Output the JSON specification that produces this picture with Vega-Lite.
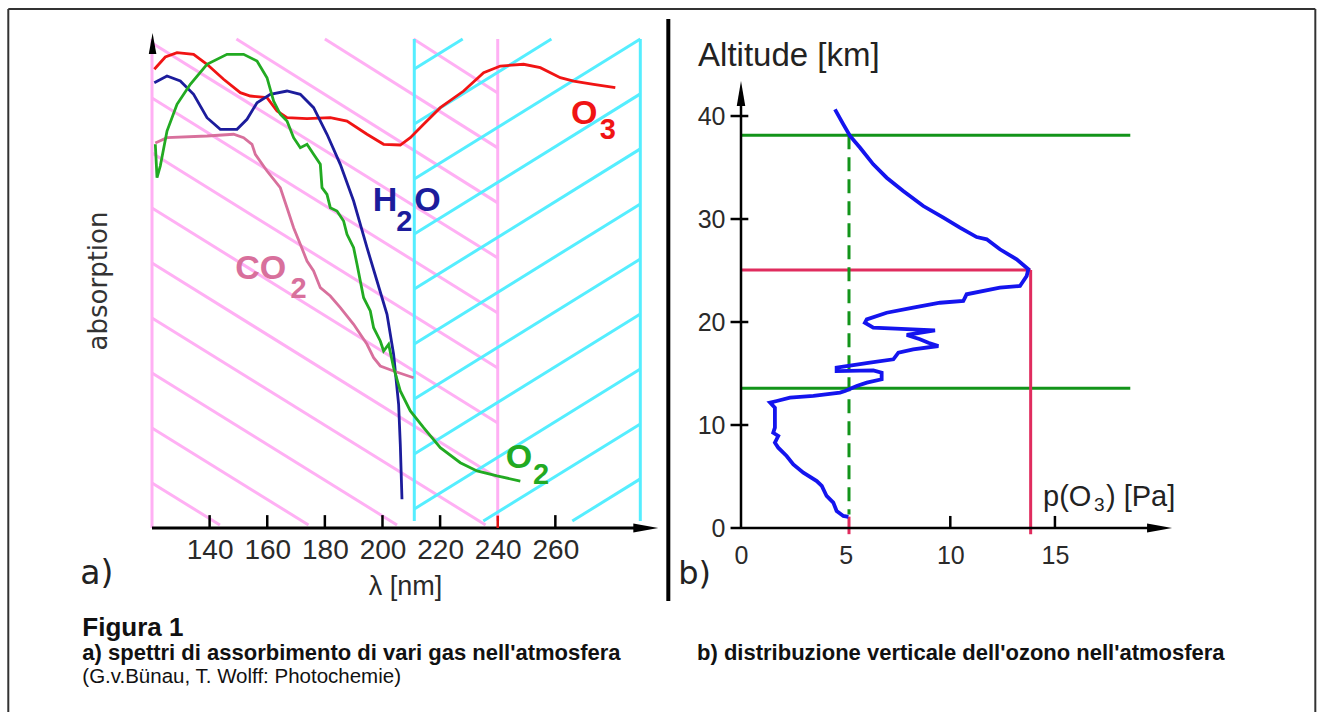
{
  "$schema": "https://vega.github.io/schema/vega-lite/v6.json",
  "padding": {"left": 7, "top": 7, "right": 3, "bottom": 1},
  "bounds": "flush",
  "spacing": 83,
  "background": "white",
  "config": {
    "view": {"stroke": null},
    "axis": {"grid": false, "domain": false, "ticks": false, "tickSize": 0, "minExtent": 0, "labelFont": "Liberation Sans", "titleFont": "Liberation Sans", "labelColor": "#2a2a2a", "titleColor": "#2a2a2a", "titleFontWeight": "normal", "labelFlush": false, "labelOverlap": false},
    "text": {"font": "Liberation Sans"}
  },
  "datasets": {
    "pinkHatch": [
      {"nm": 120, "absorption": 9.09, "nm2": 143.57, "absorption2": 0.61},
      {"nm": 120, "absorption": 20.2, "nm2": 174.32, "absorption2": 0.61},
      {"nm": 120, "absorption": 31.31, "nm2": 205.04, "absorption2": 0.61},
      {"nm": 120, "absorption": 42.42, "nm2": 235.79, "absorption2": 0.61},
      {"nm": 120, "absorption": 53.54, "nm2": 240, "absorption2": 10.12},
      {"nm": 120, "absorption": 64.65, "nm2": 240, "absorption2": 21.23},
      {"nm": 120, "absorption": 75.76, "nm2": 240, "absorption2": 32.34},
      {"nm": 120, "absorption": 86.87, "nm2": 240, "absorption2": 43.45},
      {"nm": 120, "absorption": 97.98, "nm2": 240, "absorption2": 54.57},
      {"nm": 149.3, "absorption": 98.79, "nm2": 240, "absorption2": 65.68},
      {"nm": 180.01, "absorption": 98.79, "nm2": 240, "absorption2": 76.79},
      {"nm": 210.77, "absorption": 98.79, "nm2": 240, "absorption2": 87.9},
      {"nm": 120, "absorption": 98.79, "nm2": 120, "absorption2": 0},
      {"nm": 240, "absorption": 98.79, "nm2": 240, "absorption2": 1.4}
    ],
    "cyanHatch": [
      {"nm": 265.89, "absorption": 1.41, "nm2": 289.49, "absorption2": 9.92},
      {"nm": 235.0, "absorption": 1.41, "nm2": 289.49, "absorption2": 21.03},
      {"nm": 211.04, "absorption": 3.84, "nm2": 289.49, "absorption2": 32.14},
      {"nm": 211.04, "absorption": 14.95, "nm2": 289.49, "absorption2": 43.25},
      {"nm": 211.04, "absorption": 26.06, "nm2": 289.49, "absorption2": 54.36},
      {"nm": 211.04, "absorption": 37.17, "nm2": 289.49, "absorption2": 65.47},
      {"nm": 211.04, "absorption": 48.28, "nm2": 289.49, "absorption2": 76.59},
      {"nm": 211.04, "absorption": 59.39, "nm2": 289.49, "absorption2": 87.7},
      {"nm": 211.04, "absorption": 70.51, "nm2": 289.49, "absorption2": 98.79},
      {"nm": 211.04, "absorption": 81.62, "nm2": 258.63, "absorption2": 98.79},
      {"nm": 211.04, "absorption": 92.73, "nm2": 227.84, "absorption2": 98.79},
      {"nm": 211.04, "absorption": 98.79, "nm2": 211.04, "absorption2": 1.41},
      {"nm": 289.49, "absorption": 98.79, "nm2": 289.49, "absorption2": 1.41}
    ],
    "spectra": [
      {"gas": "O3", "i": 0, "nm": 120.8, "absorption": 92.67},
      {"gas": "O3", "i": 1, "nm": 124.62, "absorption": 95.15},
      {"gas": "O3", "i": 2, "nm": 128.68, "absorption": 96.02},
      {"gas": "O3", "i": 3, "nm": 134.44, "absorption": 95.7},
      {"gas": "O3", "i": 4, "nm": 139.09, "absorption": 93.68},
      {"gas": "O3", "i": 5, "nm": 144.85, "absorption": 90.65},
      {"gas": "O3", "i": 6, "nm": 150.65, "absorption": 87.94},
      {"gas": "O3", "i": 7, "nm": 154.12, "absorption": 87.27},
      {"gas": "O3", "i": 8, "nm": 159.92, "absorption": 86.93},
      {"gas": "O3", "i": 9, "nm": 163.39, "absorption": 84.24},
      {"gas": "O3", "i": 10, "nm": 166.86, "absorption": 82.89},
      {"gas": "O3", "i": 11, "nm": 173.8, "absorption": 82.69},
      {"gas": "O3", "i": 12, "nm": 181.89, "absorption": 82.89},
      {"gas": "O3", "i": 13, "nm": 187.68, "absorption": 82.22},
      {"gas": "O3", "i": 14, "nm": 194.63, "absorption": 79.54},
      {"gas": "O3", "i": 15, "nm": 200.39, "absorption": 77.52},
      {"gas": "O3", "i": 16, "nm": 206.18, "absorption": 77.37},
      {"gas": "O3", "i": 17, "nm": 209.66, "absorption": 78.85},
      {"gas": "O3", "i": 18, "nm": 214.27, "absorption": 81.56},
      {"gas": "O3", "i": 19, "nm": 220.07, "absorption": 84.91},
      {"gas": "O3", "i": 20, "nm": 228.16, "absorption": 88.28},
      {"gas": "O3", "i": 21, "nm": 235.1, "absorption": 91.98},
      {"gas": "O3", "i": 22, "nm": 240.9, "absorption": 93.33},
      {"gas": "O3", "i": 23, "nm": 248.98, "absorption": 93.68},
      {"gas": "O3", "i": 24, "nm": 254.78, "absorption": 92.99},
      {"gas": "O3", "i": 25, "nm": 261.72, "absorption": 90.97},
      {"gas": "O3", "i": 26, "nm": 266.34, "absorption": 90.3},
      {"gas": "O3", "i": 27, "nm": 273.28, "absorption": 89.64},
      {"gas": "O3", "i": 28, "nm": 280.81, "absorption": 88.95},
      {"gas": "H2O", "i": 0, "nm": 120.8, "absorption": 89.96},
      {"gas": "H2O", "i": 1, "nm": 125.21, "absorption": 91.31},
      {"gas": "H2O", "i": 2, "nm": 129.82, "absorption": 90.3},
      {"gas": "H2O", "i": 3, "nm": 134.44, "absorption": 87.62},
      {"gas": "H2O", "i": 4, "nm": 139.09, "absorption": 82.89},
      {"gas": "H2O", "i": 5, "nm": 143.71, "absorption": 80.55},
      {"gas": "H2O", "i": 6, "nm": 149.5, "absorption": 80.55},
      {"gas": "H2O", "i": 7, "nm": 152.97, "absorption": 82.57},
      {"gas": "H2O", "i": 8, "nm": 156.45, "absorption": 85.92},
      {"gas": "H2O", "i": 9, "nm": 161.06, "absorption": 87.62},
      {"gas": "H2O", "i": 10, "nm": 166.86, "absorption": 88.28},
      {"gas": "H2O", "i": 11, "nm": 171.48, "absorption": 87.62},
      {"gas": "H2O", "i": 12, "nm": 176.09, "absorption": 84.91},
      {"gas": "H2O", "i": 13, "nm": 180.74, "absorption": 79.54},
      {"gas": "H2O", "i": 14, "nm": 185.36, "absorption": 73.47},
      {"gas": "H2O", "i": 15, "nm": 189.98, "absorption": 66.06},
      {"gas": "H2O", "i": 16, "nm": 194.63, "absorption": 56.63},
      {"gas": "H2O", "i": 17, "nm": 198.1, "absorption": 49.9},
      {"gas": "H2O", "i": 18, "nm": 201.57, "absorption": 43.17},
      {"gas": "H2O", "i": 19, "nm": 203.86, "absorption": 35.09},
      {"gas": "H2O", "i": 20, "nm": 205.6, "absorption": 24.99},
      {"gas": "H2O", "i": 21, "nm": 206.18, "absorption": 16.91},
      {"gas": "H2O", "i": 22, "nm": 206.77, "absorption": 5.8},
      {"gas": "CO2", "i": 0, "nm": 121.15, "absorption": 77.78},
      {"gas": "CO2", "i": 1, "nm": 125.21, "absorption": 78.85},
      {"gas": "CO2", "i": 2, "nm": 139.09, "absorption": 79.19},
      {"gas": "CO2", "i": 3, "nm": 148.32, "absorption": 79.54},
      {"gas": "CO2", "i": 4, "nm": 151.79, "absorption": 78.85},
      {"gas": "CO2", "i": 5, "nm": 154.71, "absorption": 77.52},
      {"gas": "CO2", "i": 6, "nm": 155.86, "absorption": 75.49},
      {"gas": "CO2", "i": 7, "nm": 159.92, "absorption": 72.12},
      {"gas": "CO2", "i": 8, "nm": 164.53, "absorption": 68.75},
      {"gas": "CO2", "i": 9, "nm": 166.86, "absorption": 64.71},
      {"gas": "CO2", "i": 10, "nm": 169.15, "absorption": 60.67},
      {"gas": "CO2", "i": 11, "nm": 171.48, "absorption": 57.31},
      {"gas": "CO2", "i": 12, "nm": 173.8, "absorption": 53.94},
      {"gas": "CO2", "i": 13, "nm": 176.09, "absorption": 51.92},
      {"gas": "CO2", "i": 14, "nm": 178.42, "absorption": 48.55},
      {"gas": "CO2", "i": 15, "nm": 181.89, "absorption": 46.87},
      {"gas": "CO2", "i": 16, "nm": 185.36, "absorption": 44.51},
      {"gas": "CO2", "i": 17, "nm": 189.98, "absorption": 41.15},
      {"gas": "CO2", "i": 18, "nm": 194.63, "absorption": 37.11},
      {"gas": "CO2", "i": 19, "nm": 196.92, "absorption": 34.4},
      {"gas": "CO2", "i": 20, "nm": 199.24, "absorption": 32.73},
      {"gas": "CO2", "i": 21, "nm": 203.86, "absorption": 31.72},
      {"gas": "CO2", "i": 22, "nm": 210.8, "absorption": 30.36},
      {"gas": "O2", "i": 0, "nm": 121.15, "absorption": 77.52},
      {"gas": "O2", "i": 1, "nm": 121.74, "absorption": 70.77},
      {"gas": "O2", "i": 2, "nm": 122.88, "absorption": 73.13},
      {"gas": "O2", "i": 3, "nm": 125.21, "absorption": 80.2},
      {"gas": "O2", "i": 4, "nm": 128.68, "absorption": 85.6},
      {"gas": "O2", "i": 5, "nm": 133.29, "absorption": 89.64},
      {"gas": "O2", "i": 6, "nm": 139.09, "absorption": 93.68},
      {"gas": "O2", "i": 7, "nm": 146.03, "absorption": 95.7},
      {"gas": "O2", "i": 8, "nm": 151.79, "absorption": 95.7},
      {"gas": "O2", "i": 9, "nm": 156.45, "absorption": 94.34},
      {"gas": "O2", "i": 10, "nm": 159.92, "absorption": 90.97},
      {"gas": "O2", "i": 11, "nm": 162.21, "absorption": 86.26},
      {"gas": "O2", "i": 12, "nm": 164.53, "absorption": 83.58},
      {"gas": "O2", "i": 13, "nm": 166.86, "absorption": 82.22},
      {"gas": "O2", "i": 14, "nm": 169.15, "absorption": 78.85},
      {"gas": "O2", "i": 15, "nm": 171.48, "absorption": 76.83},
      {"gas": "O2", "i": 16, "nm": 173.8, "absorption": 77.52},
      {"gas": "O2", "i": 17, "nm": 176.09, "absorption": 75.49},
      {"gas": "O2", "i": 18, "nm": 178.42, "absorption": 73.47},
      {"gas": "O2", "i": 19, "nm": 179.01, "absorption": 68.75},
      {"gas": "O2", "i": 20, "nm": 180.74, "absorption": 67.41},
      {"gas": "O2", "i": 21, "nm": 181.89, "absorption": 64.71},
      {"gas": "O2", "i": 22, "nm": 184.21, "absorption": 64.04},
      {"gas": "O2", "i": 23, "nm": 186.5, "absorption": 62.02},
      {"gas": "O2", "i": 24, "nm": 187.68, "absorption": 59.33},
      {"gas": "O2", "i": 25, "nm": 189.98, "absorption": 56.63},
      {"gas": "O2", "i": 26, "nm": 191.16, "absorption": 53.27},
      {"gas": "O2", "i": 27, "nm": 192.3, "absorption": 49.9},
      {"gas": "O2", "i": 28, "nm": 193.45, "absorption": 46.53},
      {"gas": "O2", "i": 29, "nm": 195.77, "absorption": 43.84},
      {"gas": "O2", "i": 30, "nm": 196.92, "absorption": 40.46},
      {"gas": "O2", "i": 31, "nm": 199.24, "absorption": 37.78},
      {"gas": "O2", "i": 32, "nm": 200.39, "absorption": 35.76},
      {"gas": "O2", "i": 33, "nm": 202.13, "absorption": 37.11},
      {"gas": "O2", "i": 34, "nm": 203.86, "absorption": 32.38},
      {"gas": "O2", "i": 35, "nm": 206.18, "absorption": 27.68},
      {"gas": "O2", "i": 36, "nm": 209.66, "absorption": 23.64},
      {"gas": "O2", "i": 37, "nm": 214.27, "absorption": 20.26},
      {"gas": "O2", "i": 38, "nm": 220.07, "absorption": 16.22},
      {"gas": "O2", "i": 39, "nm": 227.01, "absorption": 13.19},
      {"gas": "O2", "i": 40, "nm": 232.81, "absorption": 11.52},
      {"gas": "O2", "i": 41, "nm": 239.75, "absorption": 10.51},
      {"gas": "O2", "i": 42, "nm": 247.84, "absorption": 9.49}
    ],
    "gasMain": [
      {"gas": "O3", "text": "O", "nm": 265.4, "absorption": 81.56},
      {"gas": "H2O", "text": "H", "nm": 196.6, "absorption": 64.04},
      {"gas": "H2O", "text": "O", "nm": 211.0, "absorption": 64.04},
      {"gas": "CO2", "text": "CO", "nm": 148.9, "absorption": 50.3},
      {"gas": "O2", "text": "O", "nm": 242.8, "absorption": 12.18}
    ],
    "gasSub": [
      {"gas": "O3", "text": "3", "nm": 275.4, "absorption": 78.53},
      {"gas": "H2O", "text": "2", "nm": 204.8, "absorption": 60.0},
      {"gas": "CO2", "text": "2", "nm": 168.1, "absorption": 46.46},
      {"gas": "O2", "text": "2", "nm": 252.2, "absorption": 8.83}
    ],
    "axisA": [
      {"nm": 120, "absorption": 0, "nm2": 290, "absorption2": 0}
    ],
    "ticksA": [
      {"nm": 140, "absorption": 0, "nm2": 140, "absorption2": 2.6},
      {"nm": 160, "absorption": 0, "nm2": 160, "absorption2": 2.6},
      {"nm": 180, "absorption": 0, "nm2": 180, "absorption2": 2.6},
      {"nm": 200, "absorption": 0, "nm2": 200, "absorption2": 2.6},
      {"nm": 220, "absorption": 0, "nm2": 220, "absorption2": 2.6},
      {"nm": 260, "absorption": 0, "nm2": 260, "absorption2": 2.6}
    ],
    "tick240": [
      {"nm": 240, "absorption": 0, "nm2": 240, "absorption2": 2.5}
    ],
    "arrowRightA": [{"nm": 291.4, "absorption": 0}],
    "arrowUpA": [{"nm": 120.2, "absorption": 97.88}],
    "frame": [
      {"nm": 70.12, "absorption": 104.85, "nm2": 70.12, "absorption2": -37.17},
      {"nm": 70.12, "absorption": 104.85, "nm2": 523.78, "absorption2": 104.85},
      {"nm": 523.78, "absorption": 104.85, "nm2": 523.78, "absorption2": -37.17}
    ],
    "divider": [
      {"nm": 299.21, "absorption": 102.83, "nm2": 299.21, "absorption2": -14.75}
    ],
    "captionTitle": [{"text": "Figura 1", "nm": 95.81, "absorption": -21.9}],
    "captionA": [{"text": "a) spettri di assorbimento di vari gas nell'atmosfera", "nm": 95.81, "absorption": -26.7}],
    "captionSource": [{"text": "(G.v.Bünau, T. Wolff: Photochemie)", "nm": 95.81, "absorption": -31.3}],
    "panelA": [{"text": "a)", "nm": 95.1, "absorption": -11.3}],
    "profile": [
      {"i": 0, "p": 4.49, "km": 40.65}, {"i": 1, "p": 4.89, "km": 39.19}, {"i": 2, "p": 5.21, "km": 38.06},
      {"i": 3, "p": 5.69, "km": 36.92}, {"i": 4, "p": 6.32, "km": 35.31}, {"i": 5, "p": 6.96, "km": 34.01},
      {"i": 6, "p": 7.75, "km": 32.72}, {"i": 7, "p": 8.71, "km": 31.26}, {"i": 8, "p": 9.67, "km": 30.13},
      {"i": 9, "p": 10.46, "km": 29.16}, {"i": 10, "p": 11.26, "km": 28.25}, {"i": 11, "p": 11.74, "km": 28.03},
      {"i": 12, "p": 12.37, "km": 27.06}, {"i": 13, "p": 13.17, "km": 26.09}, {"i": 14, "p": 13.73, "km": 25.12},
      {"i": 15, "p": 13.65, "km": 24.47}, {"i": 16, "p": 13.33, "km": 23.5}, {"i": 17, "p": 12.37, "km": 23.33},
      {"i": 18, "p": 10.78, "km": 22.69}, {"i": 19, "p": 10.62, "km": 22.04}, {"i": 20, "p": 9.51, "km": 21.87},
      {"i": 21, "p": 8.23, "km": 21.39}, {"i": 22, "p": 6.96, "km": 20.9}, {"i": 23, "p": 6.01, "km": 20.26},
      {"i": 24, "p": 5.92, "km": 19.93}, {"i": 25, "p": 6.32, "km": 19.45}, {"i": 26, "p": 9.27, "km": 19.19},
      {"i": 27, "p": 7.92, "km": 18.74}, {"i": 28, "p": 8.55, "km": 18.32}, {"i": 29, "p": 8.95, "km": 17.99},
      {"i": 30, "p": 9.43, "km": 17.67}, {"i": 31, "p": 8.23, "km": 17.35}, {"i": 32, "p": 7.52, "km": 17.02},
      {"i": 33, "p": 7.28, "km": 16.38}, {"i": 34, "p": 6.16, "km": 16.05}, {"i": 35, "p": 4.57, "km": 15.56},
      {"i": 36, "p": 4.57, "km": 15.24}, {"i": 37, "p": 6.32, "km": 15.31}, {"i": 38, "p": 6.72, "km": 15.08},
      {"i": 39, "p": 6.72, "km": 14.44}, {"i": 40, "p": 6.01, "km": 14.11}, {"i": 41, "p": 5.53, "km": 13.79},
      {"i": 42, "p": 4.97, "km": 13.3}, {"i": 43, "p": 4.73, "km": 13.14}, {"i": 44, "p": 3.46, "km": 12.82},
      {"i": 45, "p": 2.34, "km": 12.65}, {"i": 46, "p": 1.71, "km": 12.33}, {"i": 47, "p": 1.39, "km": 12.17},
      {"i": 48, "p": 1.62, "km": 11.68}, {"i": 49, "p": 1.62, "km": 9.74}, {"i": 50, "p": 1.54, "km": 9.25},
      {"i": 51, "p": 1.78, "km": 8.93}, {"i": 52, "p": 1.62, "km": 8.28}, {"i": 53, "p": 1.78, "km": 7.8},
      {"i": 54, "p": 2.18, "km": 6.99}, {"i": 55, "p": 2.5, "km": 6.18}, {"i": 56, "p": 2.98, "km": 5.37},
      {"i": 57, "p": 3.62, "km": 4.56}, {"i": 58, "p": 3.86, "km": 4.08}, {"i": 59, "p": 4.09, "km": 3.11},
      {"i": 60, "p": 4.41, "km": 2.46}, {"i": 61, "p": 4.57, "km": 1.65}, {"i": 62, "p": 4.89, "km": 1.17},
      {"i": 63, "p": 5.13, "km": 1.07}
    ],
    "greenLines": [
      {"p": 0, "km": 38.13, "p2": 18.6, "km2": 38.13},
      {"p": 0, "km": 13.56, "p2": 18.6, "km2": 13.56}
    ],
    "redLines": [
      {"p": 0, "km": 25.05, "p2": 13.84, "km2": 25.05},
      {"p": 13.84, "km": 25.05, "p2": 13.84, "km2": -0.6},
      {"p": 5.16, "km": 1.1, "p2": 5.16, "km2": -0.6}
    ],
    "dashedLine": [
      {"p": 5.16, "km": 38.13, "p2": 5.16, "km2": 1.3}
    ],
    "axisB": [
      {"p": 0, "km": 0, "p2": 0, "km2": 41},
      {"p": -0.5, "km": 0, "p2": 19.5, "km2": 0},
      {"p": -0.5, "km": 10, "p2": 0.35, "km2": 10},
      {"p": -0.5, "km": 20, "p2": 0.35, "km2": 20},
      {"p": -0.5, "km": 30, "p2": 0.35, "km2": 30},
      {"p": -0.5, "km": 40, "p2": 0.35, "km2": 40},
      {"p": 10, "km": 0, "p2": 10, "km2": 1.17},
      {"p": 15, "km": 0, "p2": 15, "km2": 1.17}
    ],
    "arrowRightB": [{"p": 20.0, "km": 0}],
    "arrowUpB": [{"p": 0, "km": 42.18}],
    "altLabel": [{"text": "Altitude [km]", "p": -2.05, "km": 44.85}],
    "pMain": [{"text": "p(O", "p": 14.43, "km": 2.14}, {"text": ") [Pa]", "p": 17.44, "km": 2.14}],
    "pSub": [{"text": "3", "p": 16.87, "km": 1.65}],
    "panelB": [{"text": "b)", "p": -3.0, "km": -5.44}],
    "captionB": [{"text": "b) distribuzione verticale dell'ozono nell'atmosfera", "p": -2.1, "km": -12.82}]
  },
  "hconcat": [
    {
      "width": 506,
      "height": 495,
      "encoding": {
        "x": {"field": "nm", "type": "quantitative", "scale": {"domain": [120, 295.63], "nice": false, "zero": false},
              "axis": {"values": [140, 160, 180, 200, 220, 240, 260], "labelFontSize": 28, "labelPadding": 8, "title": "λ [nm]", "titleFontSize": 27, "titlePadding": 9}},
        "y": {"field": "absorption", "type": "quantitative", "scale": {"domain": [0, 100], "nice": false, "zero": false},
              "axis": {"labels": false, "title": "absorption", "titleFont": "DejaVu Sans", "titleFontSize": 26, "titlePadding": 41, "titleColor": "#333"}}
      },
      "layer": [
        {
          "data": {"name": "pinkHatch"},
          "mark": {"type": "rule", "color": "#ffb0f4", "strokeWidth": 3},
          "encoding": {"x2": {"field": "nm2"}, "y2": {"field": "absorption2"}}
        },
        {
          "data": {"name": "cyanHatch"},
          "mark": {"type": "rule", "color": "#55eeff", "strokeWidth": 3},
          "encoding": {"x2": {"field": "nm2"}, "y2": {"field": "absorption2"}}
        },
        {
          "data": {"name": "spectra"},
          "mark": {"type": "line", "strokeWidth": 2.8},
          "encoding": {
            "color": {"field": "gas", "type": "nominal", "scale": {"domain": ["O3", "H2O", "CO2", "O2"], "range": ["#f01414", "#1c1c9c", "#d8709c", "#22aa22"]}, "legend": null},
            "order": {"field": "i", "type": "quantitative"}
          }
        },
        {
          "data": {"name": "gasMain"},
          "mark": {"type": "text", "align": "left", "baseline": "alphabetic", "fontSize": 34, "fontWeight": "bold"},
          "encoding": {
            "text": {"field": "text"},
            "color": {"field": "gas", "type": "nominal", "scale": {"domain": ["O3", "H2O", "CO2", "O2"], "range": ["#f01414", "#1c1c9c", "#d8709c", "#22aa22"]}, "legend": null}
          }
        },
        {
          "data": {"name": "gasSub"},
          "mark": {"type": "text", "align": "left", "baseline": "alphabetic", "fontSize": 29, "fontWeight": "bold"},
          "encoding": {
            "text": {"field": "text"},
            "color": {"field": "gas", "type": "nominal", "scale": {"domain": ["O3", "H2O", "CO2", "O2"], "range": ["#f01414", "#1c1c9c", "#d8709c", "#22aa22"]}, "legend": null}
          }
        },
        {
          "data": {"name": "axisA"},
          "mark": {"type": "rule", "color": "#000", "strokeWidth": 3},
          "encoding": {"x2": {"field": "nm2"}, "y2": {"field": "absorption2"}}
        },
        {
          "data": {"name": "ticksA"},
          "mark": {"type": "rule", "color": "#000", "strokeWidth": 2.5},
          "encoding": {"x2": {"field": "nm2"}, "y2": {"field": "absorption2"}}
        },
        {
          "data": {"name": "tick240"},
          "mark": {"type": "rule", "color": "#e01010", "strokeWidth": 2.5},
          "encoding": {"x2": {"field": "nm2"}, "y2": {"field": "absorption2"}}
        },
        {
          "data": {"name": "arrowRightA"},
          "mark": {"type": "point", "shape": "M1,0L-1,-0.36L-1,0.36Z", "size": 625, "filled": true, "color": "#000", "opacity": 1}
        },
        {
          "data": {"name": "arrowUpA"},
          "mark": {"type": "point", "shape": "M0,-1L0.36,1L-0.36,1Z", "size": 441, "filled": true, "color": "#000", "opacity": 1}
        },
        {
          "data": {"name": "divider"},
          "mark": {"type": "rule", "color": "#000", "strokeWidth": 4},
          "encoding": {"x2": {"field": "nm2"}, "y2": {"field": "absorption2"}}
        },
        {
          "data": {"name": "frame"},
          "mark": {"type": "rule", "color": "#333", "strokeWidth": 2},
          "encoding": {"x2": {"field": "nm2"}, "y2": {"field": "absorption2"}}
        },
        {
          "data": {"name": "panelA"},
          "mark": {"type": "text", "align": "left", "baseline": "alphabetic", "font": "DejaVu Sans", "fontSize": 33, "color": "#222"},
          "encoding": {"text": {"field": "text"}}
        },
        {
          "data": {"name": "captionTitle"},
          "mark": {"type": "text", "align": "left", "baseline": "alphabetic", "fontSize": 26, "fontWeight": "bold", "color": "#111"},
          "encoding": {"text": {"field": "text"}}
        },
        {
          "data": {"name": "captionA"},
          "mark": {"type": "text", "align": "left", "baseline": "alphabetic", "fontSize": 22, "fontWeight": "bold", "color": "#111"},
          "encoding": {"text": {"field": "text"}}
        },
        {
          "data": {"name": "captionSource"},
          "mark": {"type": "text", "align": "left", "baseline": "alphabetic", "fontSize": 20.5, "color": "#111"},
          "encoding": {"text": {"field": "text"}}
        }
      ]
    },
    {
      "width": 431,
      "height": 495,
      "encoding": {
        "x": {"field": "p", "type": "quantitative", "scale": {"domain": [0, 20.593], "nice": false, "zero": false},
              "axis": {"values": [0, 5, 10, 15], "labelFontSize": 25, "labelPadding": 15, "title": null}},
        "y": {"field": "km", "type": "quantitative", "scale": {"domain": [0, 48.06], "nice": false, "zero": false},
              "axis": {"values": [0, 10, 20, 30, 40], "labelFontSize": 25, "labelPadding": 16, "title": null}}
      },
      "layer": [
        {
          "data": {"name": "greenLines"},
          "mark": {"type": "rule", "color": "#12941a", "strokeWidth": 3},
          "encoding": {"x2": {"field": "p2"}, "y2": {"field": "km2"}}
        },
        {
          "data": {"name": "redLines"},
          "mark": {"type": "rule", "color": "#e02c5e", "strokeWidth": 3},
          "encoding": {"x2": {"field": "p2"}, "y2": {"field": "km2"}}
        },
        {
          "data": {"name": "dashedLine"},
          "mark": {"type": "rule", "color": "#12941a", "strokeWidth": 3, "strokeDash": [14, 8]},
          "encoding": {"x2": {"field": "p2"}, "y2": {"field": "km2"}}
        },
        {
          "data": {"name": "axisB"},
          "mark": {"type": "rule", "color": "#000", "strokeWidth": 2.5},
          "encoding": {"x2": {"field": "p2"}, "y2": {"field": "km2"}}
        },
        {
          "data": {"name": "profile"},
          "mark": {"type": "line", "color": "#1414ee", "strokeWidth": 3.8},
          "encoding": {"order": {"field": "i", "type": "quantitative"}}
        },
        {
          "data": {"name": "arrowRightB"},
          "mark": {"type": "point", "shape": "M1,0L-1,-0.36L-1,0.36Z", "size": 625, "filled": true, "color": "#000", "opacity": 1}
        },
        {
          "data": {"name": "arrowUpB"},
          "mark": {"type": "point", "shape": "M0,-1L0.34,1L-0.34,1Z", "size": 625, "filled": true, "color": "#000", "opacity": 1}
        },
        {
          "data": {"name": "altLabel"},
          "mark": {"type": "text", "align": "left", "baseline": "alphabetic", "fontSize": 33, "color": "#222"},
          "encoding": {"text": {"field": "text"}}
        },
        {
          "data": {"name": "pMain"},
          "mark": {"type": "text", "align": "left", "baseline": "alphabetic", "fontSize": 29, "color": "#222"},
          "encoding": {"text": {"field": "text"}}
        },
        {
          "data": {"name": "pSub"},
          "mark": {"type": "text", "align": "left", "baseline": "alphabetic", "fontSize": 19, "color": "#222"},
          "encoding": {"text": {"field": "text"}}
        },
        {
          "data": {"name": "panelB"},
          "mark": {"type": "text", "align": "left", "baseline": "alphabetic", "font": "DejaVu Sans", "fontSize": 32, "color": "#222"},
          "encoding": {"text": {"field": "text"}}
        },
        {
          "data": {"name": "captionB"},
          "mark": {"type": "text", "align": "left", "baseline": "alphabetic", "fontSize": 22, "fontWeight": "bold", "color": "#111"},
          "encoding": {"text": {"field": "text"}}
        }
      ]
    }
  ]
}
